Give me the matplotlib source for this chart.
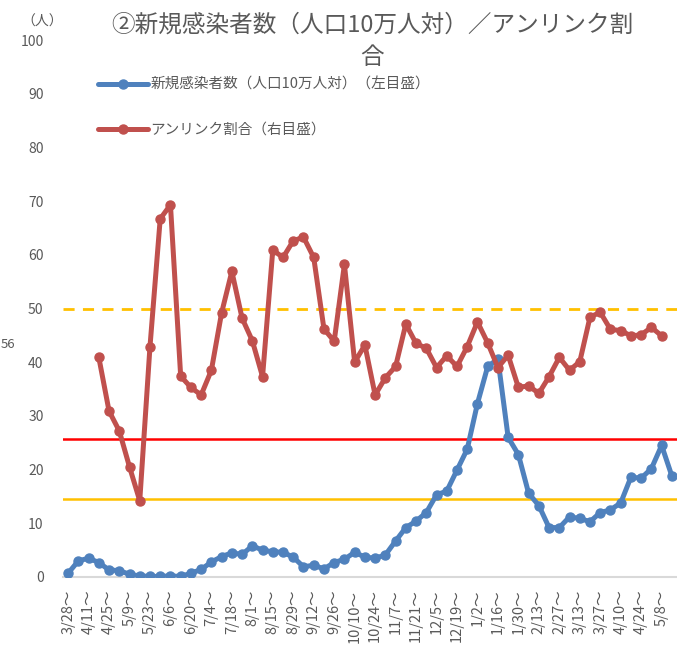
import matplotlib
matplotlib.use('Agg')
import matplotlib.pyplot as plt
import numpy as np

plt.rcParams['font.family'] = ['Noto Sans CJK JP', 'DejaVu Sans']

weeks = ['3/28', '4/4', '4/11', '4/18', '4/25', '5/2', '5/9', '5/16', '5/23', '5/30',
         '6/6', '6/13', '6/20', '6/27', '7/4', '7/11', '7/18', '7/25', '8/1', '8/8',
         '8/15', '8/22', '8/29', '9/5', '9/12', '9/19', '9/26', '10/3', '10/10', '10/17',
         '10/24', '10/31', '11/7', '11/14', '11/21', '11/28', '12/5', '12/12', '12/19', '12/26',
         '1/2', '1/9', '1/16', '1/23', '1/30', '2/6', '2/13', '2/20', '2/27', '3/6',
         '3/13', '3/20', '3/27', '4/3', '4/10', '4/17', '4/24', '5/1', '5/8', '5/15']

new_cases = [0.7, 3.0, 3.5, 2.7, 1.3, 1.2, 0.5, 0.2, 0.1, 0.1,
             0.2, 0.1, 0.7, 1.4, 2.8, 3.8, 4.5, 4.2, 5.8, 5.0,
             4.7, 4.6, 3.7, 1.9, 2.2, 1.5, 2.7, 3.3, 4.6, 3.7,
             3.5, 4.1, 6.7, 9.2, 10.4, 12.0, 15.3, 16.0, 19.9, 23.8,
             32.3, 39.2, 40.6, 26.0, 22.8, 15.6, 13.3, 9.2, 9.2, 11.2,
             10.9, 10.3, 12.0, 12.5, 13.8, 18.6, 18.4, 20.2, 24.5, 18.8]

unlinked = [np.nan, np.nan, np.nan,
            40.9, 30.9, 27.2, 20.5, 14.2, 42.9, 66.7, 69.3, 37.4, 35.3,
            33.9, 38.5, 49.2, 56.9, 48.2, 44.0, 37.3, 60.9, 59.5, 62.6,
            63.3, 59.5, 46.2, 43.9, 58.2, 40.0, 43.2, 33.9, 37.1, 39.2,
            47.1, 43.5, 42.6, 39.0, 41.2, 39.2, 42.9, 47.5, 43.6, 39.0,
            41.3, 35.3, 35.6, 34.2, 37.3, 40.9, 38.5, 40.1, 48.4, 49.3,
            46.1, 45.9, 44.9, 45.1, 46.5, 44.9,
            np.nan]

ref_dashed = 50
ref_red = 25.7
ref_orange = 14.5

series1_label = '新規感染者数（人口10万人対）（左目盛）'
series2_label = 'アンリンク割合（右目盛）'
title_line1 = '②新規感染者数（人口10万人対）／アンリンク割'
title_line2 = '合'

gray = '#595959'
blue = '#4F81BD'
red = '#C0504D'

fig = plt.figure(figsize=(6.77, 6.48), dpi=100)
ax = fig.add_axes([63/677, 71/648, 614/677, 537/648])

x = np.arange(len(weeks))
ax.axhline(ref_dashed, color='#FFC000', lw=2, ls=(0, (4, 3)), zorder=1)
ax.axhline(ref_red, color='#FF0000', lw=1.8, zorder=1)
ax.axhline(ref_orange, color='#FFC000', lw=1.8, zorder=1)

ax.plot(x, new_cases, color=blue, lw=3.6, marker='o', ms=6.5, label=series1_label, zorder=3,
        solid_capstyle='round', solid_joinstyle='round')
ax.plot(x, unlinked, color=red, lw=3.6, marker='o', ms=6.5, label=series2_label, zorder=4,
        solid_capstyle='round', solid_joinstyle='round')

ax.set_xlim(-0.5, len(weeks) - 0.5)
ax.set_ylim(0, 100)
ax.set_yticks(np.arange(0, 101, 10))
ax.tick_params(axis='y', length=0, pad=14, labelsize=10, labelcolor=gray)
ax.set_xticks(x[::2])
ax.set_xticklabels([w + '～' for w in weeks[::2]], rotation=90, fontsize=10.5, color=gray)
ax.tick_params(axis='x', length=0, pad=9)

for s in ['top', 'right', 'left']:
    ax.spines[s].set_visible(False)
ax.spines['bottom'].set_color('#D9D9D9')
ax.spines['bottom'].set_linewidth(1.5)

leg = ax.legend(loc='upper left', bbox_to_anchor=(98/677, 1 - 78/648), bbox_transform=fig.transFigure,
                frameon=False, fontsize=10.5, labelspacing=2.1, handlelength=3.4,
                handletextpad=0.2, borderpad=0, borderaxespad=0)
for t in leg.get_texts():
    t.set_color(gray)

fig.text(372/677, 1 - 25/648, title_line1, ha='center', va='center', fontsize=17, color=gray)
fig.text(372/677, 1 - 58/648, title_line2, ha='center', va='center', fontsize=17, color=gray)
fig.text(42/677, 1 - 22/648, '（人）', ha='center', va='center', fontsize=10, color=gray)
fig.text(1/677, 1 - 345/648, '56', ha='left', va='center', fontsize=9.5, color=gray)

fig.savefig('out.png', dpi=100)
